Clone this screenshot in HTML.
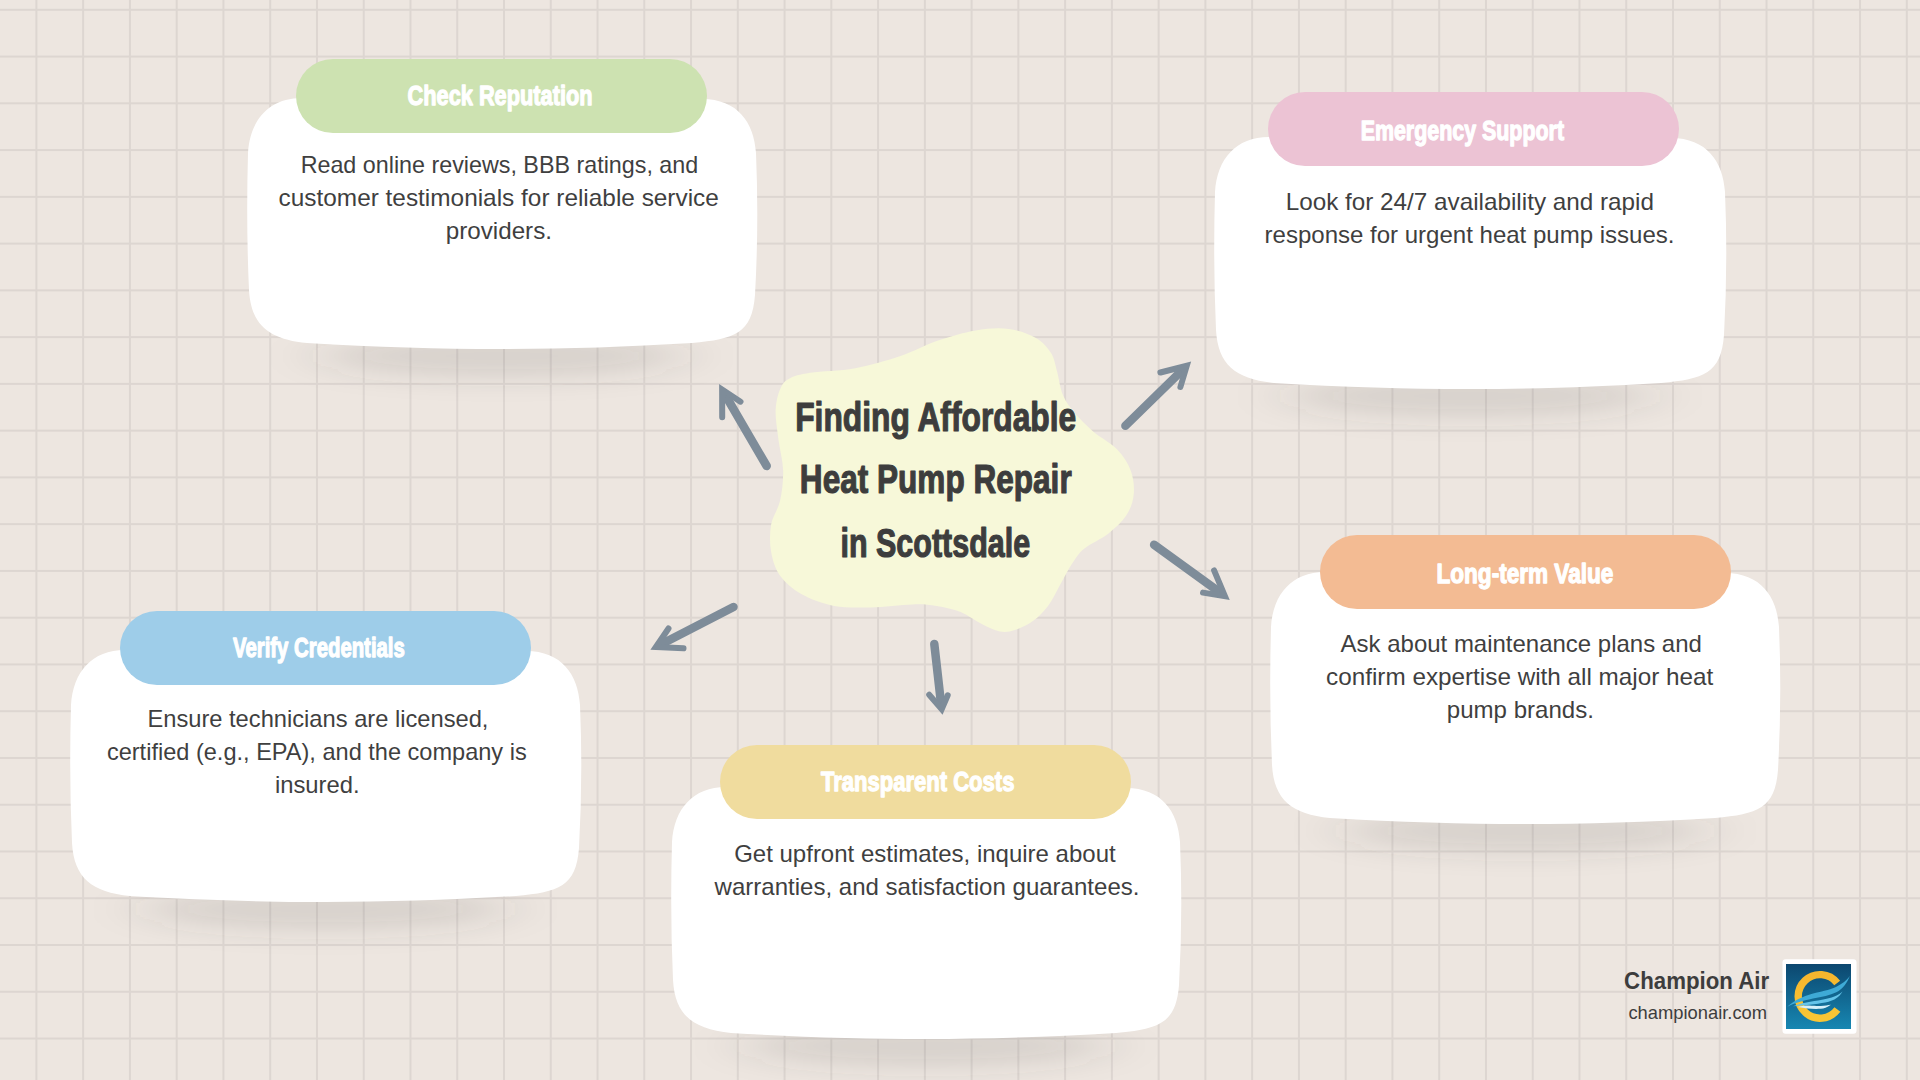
<!DOCTYPE html>
<html><head><meta charset="utf-8"><style>
html,body{margin:0;padding:0;}
body{width:1920px;height:1080px;position:relative;overflow:hidden;background:#ede6e0;font-family:"Liberation Sans",sans-serif;}
svg{position:absolute;left:0;top:0;}
text{font-family:"Liberation Sans",sans-serif;white-space:pre;}
</style></head><body>
<svg width="1920" height="1080" viewBox="0 0 1920 1080">
<defs><filter id="sh" x="-50%" y="-100%" width="200%" height="300%"><feGaussianBlur stdDeviation="30 12"/></filter>
<linearGradient id="lg" x1="0" y1="0" x2="0" y2="1"><stop offset="0" stop-color="#0c476f"/><stop offset="1" stop-color="#1787b2"/></linearGradient><linearGradient id="yg" x1="0" y1="0" x2="0" y2="1"><stop offset="0" stop-color="#f5b62e"/><stop offset="1" stop-color="#f9c634"/></linearGradient></defs>
<g fill="#ddd6d1">
<rect x="35.40" y="0" width="2" height="1080"/>
<rect x="82.16" y="0" width="2" height="1080"/>
<rect x="128.92" y="0" width="2" height="1080"/>
<rect x="175.68" y="0" width="2" height="1080"/>
<rect x="222.44" y="0" width="2" height="1080"/>
<rect x="269.20" y="0" width="2" height="1080"/>
<rect x="315.96" y="0" width="2" height="1080"/>
<rect x="362.72" y="0" width="2" height="1080"/>
<rect x="409.48" y="0" width="2" height="1080"/>
<rect x="456.24" y="0" width="2" height="1080"/>
<rect x="503.00" y="0" width="2" height="1080"/>
<rect x="549.76" y="0" width="2" height="1080"/>
<rect x="596.52" y="0" width="2" height="1080"/>
<rect x="643.28" y="0" width="2" height="1080"/>
<rect x="690.04" y="0" width="2" height="1080"/>
<rect x="736.80" y="0" width="2" height="1080"/>
<rect x="783.56" y="0" width="2" height="1080"/>
<rect x="830.32" y="0" width="2" height="1080"/>
<rect x="877.08" y="0" width="2" height="1080"/>
<rect x="923.84" y="0" width="2" height="1080"/>
<rect x="970.60" y="0" width="2" height="1080"/>
<rect x="1017.36" y="0" width="2" height="1080"/>
<rect x="1064.12" y="0" width="2" height="1080"/>
<rect x="1110.88" y="0" width="2" height="1080"/>
<rect x="1157.64" y="0" width="2" height="1080"/>
<rect x="1204.40" y="0" width="2" height="1080"/>
<rect x="1251.16" y="0" width="2" height="1080"/>
<rect x="1297.92" y="0" width="2" height="1080"/>
<rect x="1344.68" y="0" width="2" height="1080"/>
<rect x="1391.44" y="0" width="2" height="1080"/>
<rect x="1438.20" y="0" width="2" height="1080"/>
<rect x="1484.96" y="0" width="2" height="1080"/>
<rect x="1531.72" y="0" width="2" height="1080"/>
<rect x="1578.48" y="0" width="2" height="1080"/>
<rect x="1625.24" y="0" width="2" height="1080"/>
<rect x="1672.00" y="0" width="2" height="1080"/>
<rect x="1718.76" y="0" width="2" height="1080"/>
<rect x="1765.52" y="0" width="2" height="1080"/>
<rect x="1812.28" y="0" width="2" height="1080"/>
<rect x="1859.04" y="0" width="2" height="1080"/>
<rect x="1905.80" y="0" width="2" height="1080"/>
<rect x="0" y="8.80" width="1920" height="2"/>
<rect x="0" y="55.56" width="1920" height="2"/>
<rect x="0" y="102.32" width="1920" height="2"/>
<rect x="0" y="149.08" width="1920" height="2"/>
<rect x="0" y="195.84" width="1920" height="2"/>
<rect x="0" y="242.60" width="1920" height="2"/>
<rect x="0" y="289.36" width="1920" height="2"/>
<rect x="0" y="336.12" width="1920" height="2"/>
<rect x="0" y="382.88" width="1920" height="2"/>
<rect x="0" y="429.64" width="1920" height="2"/>
<rect x="0" y="476.40" width="1920" height="2"/>
<rect x="0" y="523.16" width="1920" height="2"/>
<rect x="0" y="569.92" width="1920" height="2"/>
<rect x="0" y="616.68" width="1920" height="2"/>
<rect x="0" y="663.44" width="1920" height="2"/>
<rect x="0" y="710.20" width="1920" height="2"/>
<rect x="0" y="756.96" width="1920" height="2"/>
<rect x="0" y="803.72" width="1920" height="2"/>
<rect x="0" y="850.48" width="1920" height="2"/>
<rect x="0" y="897.24" width="1920" height="2"/>
<rect x="0" y="944.00" width="1920" height="2"/>
<rect x="0" y="990.76" width="1920" height="2"/>
<rect x="0" y="1037.52" width="1920" height="2"/>
</g>
<g fill="#4a4440" fill-opacity="0.13" filter="url(#sh)">
<ellipse cx="502.0" cy="356" rx="183.6" ry="22"/>
<ellipse cx="1470.0" cy="396" rx="184.32" ry="22"/>
<ellipse cx="325.5" cy="909" rx="183.95999999999998" ry="22"/>
<ellipse cx="926.0" cy="1046" rx="183.6" ry="22"/>
<ellipse cx="1525.0" cy="831" rx="183.6" ry="22"/>
</g>
<path d="M302,98 L702,99 C737.75,99 754,122.75 756,153 Q759,224.0 755,295 C752,333.5 735,339 692,343 C557,351 447,351 307,343 C269,339 251,325.25 249,290 Q246,224.0 248,153 C250,120.0 269.0,98 302,98Z" fill="#fff"/>
<path d="M1269,137 L1671,138 C1706.75,138 1723,161.75 1725,192 Q1728,263.5 1724,335 C1721,373.5 1704,379 1661,383 C1526,391 1414,391 1274,383 C1236,379 1218,365.25 1216,330 Q1213,263.5 1215,192 C1217,159.0 1236.0,137 1269,137Z" fill="#fff"/>
<path d="M125,650 L526,651 C561.75,651 578,674.75 580,705 Q583,776.5 579,848 C576,886.5 559,892 516,896 C381,904 270,904 130,896 C92,892 74,878.25 72,843 Q69,776.5 71,705 C73,672.0 92.0,650 125,650Z" fill="#fff"/>
<path d="M726,787 L1126,788 C1161.75,788 1178,811.75 1180,842 Q1183,913.5 1179,985 C1176,1023.5 1159,1029 1116,1033 C981,1041 871,1041 731,1033 C693,1029 675,1015.25 673,980 Q670,913.5 672,842 C674,809.0 693.0,787 726,787Z" fill="#fff"/>
<path d="M1325,572 L1725,573 C1760.75,573 1777,596.75 1779,627 Q1782,698.5 1778,770 C1775,808.5 1758,814 1715,818 C1580,826 1470,826 1330,818 C1292,814 1274,800.25 1272,765 Q1269,698.5 1271,627 C1273,594.0 1292.0,572 1325,572Z" fill="#fff"/>
<rect x="296" y="59" width="411" height="74" rx="37.0" fill="#cde2b1"/>
<rect x="1268" y="92" width="411" height="74" rx="37.0" fill="#ecc3d4"/>
<rect x="120" y="611" width="411" height="74" rx="37.0" fill="#9ecde9"/>
<rect x="720" y="745" width="411" height="74" rx="37.0" fill="#f0dc9e"/>
<rect x="1320" y="535" width="411" height="74" rx="37.0" fill="#f3bb93"/>
<path d="M780.1,389.2 C782.4,383.9 784.1,381.4 789.1,378.7 C794.1,375.9 799.2,374.4 810.2,372.7 C821.2,370.9 840.2,371.0 855.3,368.2 C870.3,365.4 887.0,360.6 900.5,356.1 C914.0,351.6 924.1,345.4 936.6,341.1 C949.1,336.8 963.7,332.5 975.7,330.5 C987.7,328.5 998.8,327.7 1008.8,329.0 C1018.8,330.3 1028.9,334.1 1035.9,338.1 C1042.9,342.1 1047.5,347.6 1051.0,353.1 C1054.5,358.6 1055.0,364.2 1057.0,371.2 C1059.0,378.2 1060.0,388.2 1063.0,395.2 C1066.0,402.2 1070.0,407.3 1075.0,413.3 C1080.0,419.3 1086.1,425.4 1093.1,431.4 C1100.1,437.4 1110.9,442.9 1117.2,449.4 C1123.5,455.9 1128.0,463.0 1130.7,470.5 C1133.5,478.0 1134.5,487.1 1133.7,494.6 C1133.0,502.1 1130.5,509.1 1126.2,515.6 C1122.0,522.1 1115.2,528.2 1108.2,533.7 C1101.2,539.2 1090.1,543.7 1084.1,548.7 C1078.1,553.7 1076.0,557.8 1072.0,563.8 C1068.0,569.8 1064.0,577.9 1060.0,584.9 C1056.0,591.9 1052.5,599.9 1048.0,605.9 C1043.5,611.9 1038.4,617.0 1032.9,621.0 C1027.4,625.0 1020.4,628.2 1014.9,630.0 C1009.4,631.8 1005.3,632.5 999.8,631.5 C994.3,630.5 988.3,627.2 981.8,624.0 C975.3,620.8 968.2,615.0 960.7,612.0 C953.2,609.0 944.6,607.2 936.6,605.9 C928.6,604.6 923.5,604.1 912.5,604.4 C901.5,604.6 883.4,607.1 870.4,607.4 C857.4,607.6 845.8,608.1 834.3,605.9 C822.8,603.6 810.2,598.9 801.2,593.9 C792.2,588.9 785.1,582.8 780.1,575.8 C775.1,568.8 772.6,560.3 771.1,551.8 C769.6,543.3 769.6,533.2 771.1,524.7 C772.6,516.2 778.1,509.6 780.1,500.6 C782.1,491.6 783.4,480.5 783.1,470.5 C782.9,460.5 779.9,450.4 778.6,440.4 C777.4,430.4 775.4,418.8 775.6,410.3 C775.9,401.8 777.9,394.5 780.1,389.2Z" fill="#f7f8d9"/>
<g stroke="#7e8c99" stroke-linecap="round" stroke-linejoin="round" fill="none">
<path d="M766.7,466 L725.14,394.76" stroke-width="8.5"/>
<path d="M722.2,417.2 L722.14,389.57 L740.5,401.7" stroke-width="6" stroke-linejoin="miter" stroke-miterlimit="10"/>
<path d="M1125.4,425.8 L1182.47,369.96" stroke-width="8.5"/>
<path d="M1160.4,372.5 L1186.76,365.77 L1180.4,387" stroke-width="6" stroke-linejoin="miter" stroke-miterlimit="10"/>
<path d="M1154.1,544.8 L1220.05,592.55" stroke-width="8.5"/>
<path d="M1214.1,570.4 L1224.90,596.09 L1203,592.6" stroke-width="6" stroke-linejoin="miter" stroke-miterlimit="10"/>
<path d="M733.5,607 L661.23,644.23" stroke-width="8.5"/>
<path d="M668.5,628.5 L655.89,646.96 L683.5,648.3" stroke-width="6" stroke-linejoin="miter" stroke-miterlimit="10"/>
<path d="M934.3,643.9 L940.99,703.16" stroke-width="8.5"/>
<path d="M929.2,694.8 L941.70,709.12 L947.7,695.3" stroke-width="6" stroke-linejoin="miter" stroke-miterlimit="10"/>
</g>
<g>
<text x="300.63" y="172.70" font-size="24" font-weight="normal" fill="#3f3f3f" textLength="397.58" lengthAdjust="spacingAndGlyphs">Read online reviews, BBB ratings, and</text>
<text x="278.58" y="205.60" font-size="24" font-weight="normal" fill="#3f3f3f" textLength="440.27" lengthAdjust="spacingAndGlyphs">customer testimonials for reliable service</text>
<text x="445.79" y="238.50" font-size="24" font-weight="normal" fill="#3f3f3f" textLength="106.19" lengthAdjust="spacingAndGlyphs">providers.</text>
<text x="1285.69" y="209.80" font-size="24" font-weight="normal" fill="#3f3f3f" textLength="368.27" lengthAdjust="spacingAndGlyphs">Look for 24/7 availability and rapid</text>
<text x="1264.60" y="242.70" font-size="24" font-weight="normal" fill="#3f3f3f" textLength="409.87" lengthAdjust="spacingAndGlyphs">response for urgent heat pump issues.</text>
<text x="147.41" y="727.40" font-size="24" font-weight="normal" fill="#3f3f3f" textLength="341.03" lengthAdjust="spacingAndGlyphs">Ensure technicians are licensed,</text>
<text x="106.92" y="760.30" font-size="24" font-weight="normal" fill="#3f3f3f" textLength="419.78" lengthAdjust="spacingAndGlyphs">certified (e.g., EPA), and the company is</text>
<text x="274.91" y="793.20" font-size="24" font-weight="normal" fill="#3f3f3f" textLength="84.75" lengthAdjust="spacingAndGlyphs">insured.</text>
<text x="734.20" y="862.40" font-size="24" font-weight="normal" fill="#3f3f3f" textLength="381.47" lengthAdjust="spacingAndGlyphs">Get upfront estimates, inquire about</text>
<text x="714.60" y="895.30" font-size="24" font-weight="normal" fill="#3f3f3f" textLength="424.87" lengthAdjust="spacingAndGlyphs">warranties, and satisfaction guarantees.</text>
<text x="1340.60" y="651.70" font-size="24" font-weight="normal" fill="#3f3f3f" textLength="361.25" lengthAdjust="spacingAndGlyphs">Ask about maintenance plans and</text>
<text x="1326.09" y="684.60" font-size="24" font-weight="normal" fill="#3f3f3f" textLength="387.18" lengthAdjust="spacingAndGlyphs">confirm expertise with all major heat</text>
<text x="1446.80" y="717.50" font-size="24" font-weight="normal" fill="#3f3f3f" textLength="147.07" lengthAdjust="spacingAndGlyphs">pump brands.</text>
<text x="407.52" y="105.00" font-size="28" font-weight="bold" fill="#ffffff" textLength="185.04" lengthAdjust="spacingAndGlyphs" stroke="#ffffff" stroke-width="1.3" stroke-linejoin="round">Check Reputation</text>
<text x="1360.64" y="140.30" font-size="28" font-weight="bold" fill="#ffffff" textLength="203.41" lengthAdjust="spacingAndGlyphs" stroke="#ffffff" stroke-width="1.3" stroke-linejoin="round">Emergency Support</text>
<text x="233.00" y="657.00" font-size="28" font-weight="bold" fill="#ffffff" textLength="171.82" lengthAdjust="spacingAndGlyphs" stroke="#ffffff" stroke-width="1.3" stroke-linejoin="round">Verify Credentials</text>
<text x="820.90" y="791.10" font-size="28" font-weight="bold" fill="#ffffff" textLength="193.55" lengthAdjust="spacingAndGlyphs" stroke="#ffffff" stroke-width="1.3" stroke-linejoin="round">Transparent Costs</text>
<text x="1436.49" y="582.90" font-size="28" font-weight="bold" fill="#ffffff" textLength="176.87" lengthAdjust="spacingAndGlyphs" stroke="#ffffff" stroke-width="1.3" stroke-linejoin="round">Long-term Value</text>
<text x="795.16" y="431.40" font-size="41" font-weight="bold" fill="#3d3d3d" textLength="281.06" lengthAdjust="spacingAndGlyphs" stroke="#3d3d3d" stroke-width="1.2" stroke-linejoin="round">Finding Affordable</text>
<text x="799.86" y="493.30" font-size="41" font-weight="bold" fill="#3d3d3d" textLength="271.81" lengthAdjust="spacingAndGlyphs" stroke="#3d3d3d" stroke-width="1.2" stroke-linejoin="round">Heat Pump Repair</text>
<text x="840.51" y="557.30" font-size="41" font-weight="bold" fill="#3d3d3d" textLength="189.58" lengthAdjust="spacingAndGlyphs" stroke="#3d3d3d" stroke-width="1.2" stroke-linejoin="round">in Scottsdale</text>
</g>
<text x="1624.10" y="988.60" font-size="23" font-weight="bold" fill="#3d3d3d" textLength="145.05" lengthAdjust="spacingAndGlyphs">Champion Air</text>
<text x="1628.40" y="1018.50" font-size="19" font-weight="normal" fill="#3d3d3d" textLength="138.70" lengthAdjust="spacingAndGlyphs">championair.com</text>
<rect x="1782.5" y="959.3" width="74" height="74.5" rx="3" fill="#fff"/>
<g transform="translate(1786,964)">
<rect width="65" height="65" fill="url(#lg)"/>
<path d="M51.18,18.98 A21.8,21.8 0 1 0 51.41,45.52" stroke="url(#yg)" stroke-width="7.4" fill="none"/>
<path d="M1.3,42.7 C8,37 12,34.5 23.1,30.7 C34,27.5 44,26 50,23 C56,20 61,16 63.9,12 C61,19 57,25 50.3,28.3 C44,31.5 36,33 27,34.6 C16,37 8,39.5 1.3,42.7Z" fill="#3eaad6"/>
<path d="M7.2,42.3 C14,39.2 26,37.5 36,35.8 C46,34.2 52,31.5 56.6,27.6 C53,33.5 48,36.5 42.6,37.7 C34,39.8 24,40.5 7.2,42.3Z" fill="#64c4ea"/>
<path d="M11.8,43.1 C17,41.8 20,41.5 23.1,41.6 C28,41.8 31,42.2 34.8,42 C39,41.8 42,41.3 44.9,40.8 C41,43.5 38,44.7 34.8,44.8 C28,45.1 20,44.8 11.8,43.1Z" fill="#d6f0fa"/>
</g>
</svg>
</body></html>
